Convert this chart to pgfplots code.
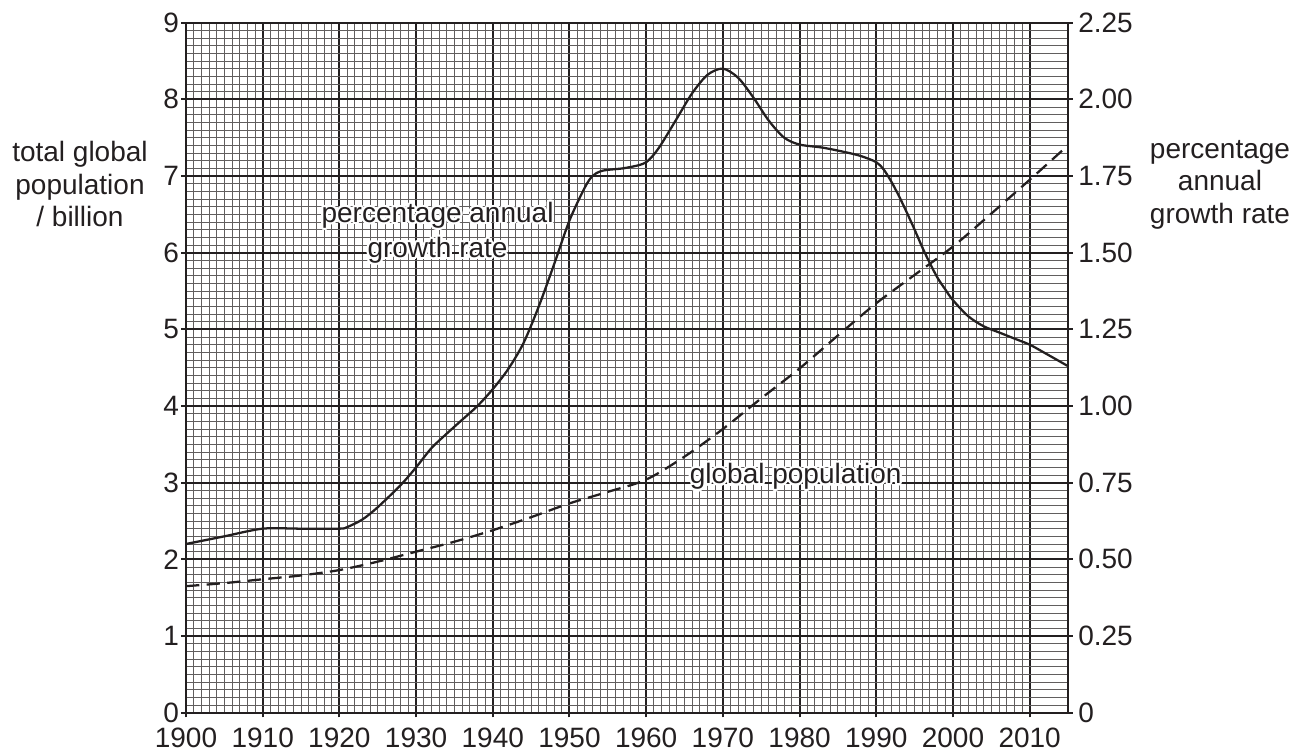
\documentclass[border=0pt]{standalone}
\usepackage{pgfplots}
\pgfplotsset{compat=1.18}
\usepackage{fontspec}
\setmainfont{Liberation Sans}
\usetikzlibrary{calc}
\definecolor{ink}{RGB}{35,31,32}

\newcommand\halo[3]{%
  \foreach \ang in {0,30,...,330}{\node[#3,text=white] at ($(#1)+(\ang:1.7pt)$) {#2};}%
  \node[#3,text=ink] at (#1) {#2};}

\begin{document}
\begin{tikzpicture}
\path[use as bounding box] (-139.5pt,-30.2pt) rectangle (841.5pt,534.5pt);
\pgfplotsset{
  base/.style={
    scale only axis, width=661.5pt, height=517.5pt,
    xmin=1900, xmax=2015,
    tick align=outside, major tick length=3.5pt, minor tick length=0pt,
    tick style={ink, line width=1.5pt},
    axis line style={ink, line width=1.7pt, -},
    ticklabel style={font=\fontsize{21}{24}\selectfont, text=ink},
  }
}
\begin{axis}[base,
  ymin=0, ymax=9,
  xtick={1900,1910,1920,1930,1940,1950,1960,1970,1980,1990,2000,2010},
  xticklabels={1900,1910,1920,1930,1940,1950,1960,1970,1980,1990,2000,2010},
  ytick={0,1,2,3,4,5,6,7,8,9},
  yticklabels={0,1,2,3,4,5,6,7,8,9},
  minor x tick num=9, minor y tick num=9,
  grid=both,
  minor grid style={ink!72, line width=0.7pt},
  major grid style={ink, line width=1.5pt},
  axis y line*=left, axis x line*=bottom,
  yticklabel style={inner sep=1.5pt},
  xticklabel style={inner sep=2pt, yshift=-5.5pt},
]
\addplot[ink, line width=1.7pt, dash pattern=on 10pt off 5.5pt, smooth, tension=0.5] coordinates {
(1900,1.65) (1905,1.69) (1910,1.74) (1915,1.79) (1920,1.86) (1925,1.97)
(1930,2.10) (1935,2.23) (1940,2.38) (1945,2.55) (1950,2.73) (1955,2.88)
(1960,3.04) (1965,3.34) (1970,3.70) (1975,4.10) (1980,4.49) (1985,4.92)
(1990,5.34) (1995,5.71) (2000,6.08) (2005,6.51) (2010,6.95) (2015,7.40)
};
\coordinate (labA) at (axis cs:1932.8,6.26);
\coordinate (labB) at (axis cs:1979.5,3.08);
\end{axis}
\begin{axis}[base,
  ymin=0, ymax=2.25,
  axis x line=none, axis y line*=right,
  ytick={0,0.25,0.5,0.75,1,1.25,1.5,1.75,2,2.25},
  yticklabels={0,0.25,0.50,0.75,1.00,1.25,1.50,1.75,2.00,2.25},
  yticklabel style={inner sep=4pt},
]
\addplot[ink, line width=1.7pt, smooth, tension=0.5] coordinates {
(1900,0.55) (1905,0.575) (1910,0.60) (1915,0.60) (1920,0.60) (1921,0.605)
(1923,0.63) (1925,0.67) (1928,0.7425) (1930,0.80) (1932,0.8625) (1934,0.91)
(1936,0.955) (1938,1.00) (1940,1.055) (1942,1.12) (1944,1.205) (1946,1.325)
(1948,1.4625) (1950,1.605) (1952,1.7125) (1953,1.75) (1954,1.765) (1955,1.77)
(1957,1.775) (1959,1.785) (1960,1.795) (1961,1.82) (1962,1.855) (1964,1.9375)
(1966,2.02) (1968,2.08) (1970,2.10) (1972,2.07) (1974,2.005) (1976,1.93)
(1978,1.875) (1980,1.8525) (1983,1.8425) (1986,1.8275) (1988,1.815) (1990,1.795)
(1991,1.77) (1992,1.73) (1993,1.6825) (1994,1.63) (1995,1.575) (1996,1.5175)
(1997,1.465) (1998,1.4175) (1999,1.38) (2000,1.345) (2002,1.2925) (2004,1.26)
(2006,1.24) (2008,1.22) (2010,1.20) (2012,1.1725) (2015,1.13)
};
\end{axis}
\halo{labA}{percentage annual\\growth rate}{align=center, font=\fontsize{21}{26}\selectfont}
\halo{labB}{global population}{font=\fontsize{21}{26}\selectfont}
\node[align=center, text=ink, font=\fontsize{21}{24.5}\selectfont] at (-79.5pt,396.5pt) {total global\\population\\/ billion};
\node[align=center, text=ink, font=\fontsize{21}{24.5}\selectfont] at (775.5pt,396pt) {percentage\\annual\\growth rate};
\end{tikzpicture}
\end{document}
